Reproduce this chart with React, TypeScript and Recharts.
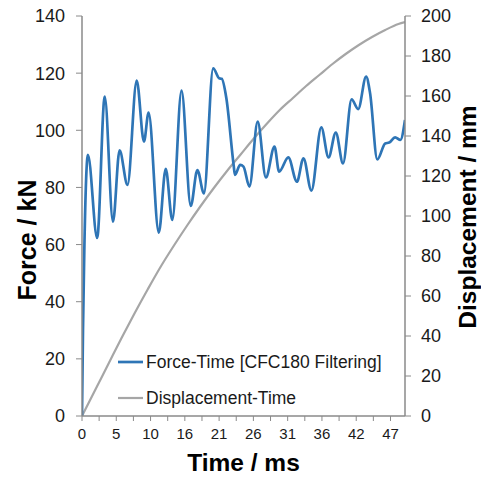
import React from 'react';
import { LineChart, Line, XAxis, YAxis, Legend } from 'recharts';

// ---- data ----
const forceTime = [0, 0.15, 0.35, 0.9, 2.3, 3.45, 4.7, 5.7, 6.9, 8.3, 9.4, 10.1, 11.65, 12.7, 13.7, 15.1, 16.5, 17.5, 18.5, 19.9, 20.8, 21.2, 21.9, 23.0, 23.2, 24.0, 24.5, 25.4, 26.65, 27.9, 29.2, 29.9, 31.3, 32.6, 33.6, 34.8, 36.3, 37.4, 38.5, 39.6, 40.9, 41.9, 43.1, 43.7, 44.8, 46.0, 46.6, 47.5, 48.3, 49.0];
const forceKN = [0, 30, 58, 91.4, 62.3, 111.8, 68, 93, 80.9, 117.4, 96, 106.2, 64.2, 86.5, 68.6, 113.9, 73.5, 86.1, 77.9, 121.7, 118.2, 118, 111.2, 87.9, 84.4, 87.9, 87.3, 80.3, 103, 83.5, 94.3, 85.5, 90.5, 82, 90.2, 78.9, 101, 90.5, 99.2, 88.4, 110.8, 107.4, 118.8, 113, 89.8, 95.4, 95.7, 97.5, 96.6, 103.6];

const dispTime = [0, 2, 4, 6, 8, 10, 12, 14, 16, 18, 20, 22, 24, 26, 28, 30, 32, 34, 36, 38, 40, 42, 44, 46, 48, 49];
const dispMM = [0, 13, 26, 39, 51.5, 63.5, 75, 85.5, 95.5, 105, 114, 122.5, 130.5, 138.5, 146, 153, 159, 165, 170.5, 176, 181, 185.5, 189.5, 193, 196, 197];

const xTicksAll = [0, 2.6, 5.2, 7.8, 10.4, 13, 15.6, 18.2, 20.8, 23.4, 26, 28.6, 31.2, 33.8, 36.4, 39, 41.6, 44.2, 46.8];
const xMajorTicks = [0, 5.2, 10.4, 15.6, 20.8, 26, 31.2, 36.4, 41.6, 46.8];
const xTickLabels = ['0', '5', '10', '16', '21', '26', '31', '36', '42', '47'];

const forceTicks = [0, 20, 40, 60, 80, 100, 120, 140];
const forceMinorTicks = [0, 4, 8, 12, 16, 20, 24, 28, 32, 36, 40, 44, 48, 52, 56, 60, 64, 68, 72, 76, 80, 84, 88, 92, 96, 100, 104, 108, 112, 116, 120, 124, 128, 132, 136, 140];
const dispTicks = [0, 20, 40, 60, 80, 100, 120, 140, 160, 180, 200];
const dispMinorTicks = [0, 4, 8, 12, 16, 20, 24, 28, 32, 36, 40, 44, 48, 52, 56, 60, 64, 68, 72, 76, 80, 84, 88, 92, 96, 100, 104, 108, 112, 116, 120, 124, 128, 132, 136, 140, 144, 148, 152, 156, 160, 164, 168, 172, 176, 180, 184, 188, 192, 196, 200];

const forceData = forceTime.map((t, i) => ({ t, f: forceKN[i] }));
const dispData = dispTime.map((t, i) => ({ t, d: dispMM[i] }));

const BLUE = '#2E75B6';
const GRAY = '#A6A6A6';
const AXIS = '#8a8a8a';
const FONT = '"Liberation Sans", Arial, sans-serif';

const noTick = () => <g />;

const renderLegend = (props: any) => {
  const payload = [...(props.payload || [])].reverse();
  return (
    <div style={{ fontFamily: FONT, fontSize: 17.5, color: '#1a1a1a' }}>
      {payload.map((p: any, i: number) => (
        <div key={i} style={{ display: 'flex', alignItems: 'center', height: 36, whiteSpace: 'nowrap' }}>
          <svg width={25} height={4} style={{ marginRight: 3 }}>
            <line x1={0} y1={2} x2={25} y2={2} stroke={p.color} strokeWidth={p.color === BLUE ? 2.7 : 2.2} />
          </svg>
          <span>{p.value}</span>
        </div>
      ))}
    </div>
  );
};

const LeftTitle = (props: any) => {
  const vb = props.viewBox || {};
  const cx = 36;
  const cy = vb.y + vb.height / 2 + 24;
  return (
    <text x={cx} y={cy} transform={`rotate(-90 ${cx} ${cy})`} textAnchor="middle"
      style={{ fontFamily: FONT, fontSize: 25, fontWeight: 700, fill: '#000' }}>Force / kN</text>
  );
};

const RightTitle = (props: any) => {
  const vb = props.viewBox || {};
  const cx = 476;
  const cy = vb.y + vb.height / 2 + 1;
  return (
    <text x={cx} y={cy} transform={`rotate(-90 ${cx} ${cy})`} textAnchor="middle"
      style={{ fontFamily: FONT, fontSize: 24.5, fontWeight: 700, fill: '#000' }}>Displacement / mm</text>
  );
};

const BottomTitle = (props: any) => {
  const vb = props.viewBox || {};
  const cx = vb.x + vb.width / 2;
  return (
    <text x={cx} y={471} textAnchor="middle"
      style={{ fontFamily: FONT, fontSize: 24.5, fontWeight: 700, fill: '#000' }}>Time / ms</text>
  );
};

export default function App() {
  return (
    <div>
      <style>{'body{margin:0;overflow:hidden;}'}</style>
      <LineChart width={481} height={477} margin={{ top: 16, right: 16, bottom: 0, left: 22 }}>
        <XAxis xAxisId="top" orientation="top" type="number" dataKey="t" domain={[0, 49]} height={0}
          tick={false} tickLine={false} axisLine={{ stroke: '#707070', strokeWidth: 1.5 }} allowDataOverflow />
        <XAxis xAxisId="b" type="number" dataKey="t" domain={[0, 49]} ticks={xTicksAll} interval={0} height={61}
          allowDataOverflow
          tickFormatter={(v: number) => { const k = xMajorTicks.indexOf(v); return k >= 0 ? xTickLabels[k] : ''; }}
          tick={{ fontFamily: FONT, fontSize: 15, fill: '#1a1a1a' }}
          tickSize={5} tickMargin={7}
          tickLine={{ stroke: AXIS, strokeWidth: 1 }} axisLine={{ stroke: AXIS, strokeWidth: 1.5 }}
          label={<BottomTitle />} />
        <YAxis yAxisId="fMinor" orientation="left" mirror width={0} type="number" domain={[0, 140]}
          ticks={forceMinorTicks} interval={0} tick={noTick} tickSize={4} axisLine={false}
          tickLine={{ stroke: AXIS, strokeWidth: 1 }} allowDataOverflow />
        <YAxis yAxisId="f" orientation="left" width={60} type="number" domain={[0, 140]} ticks={forceTicks}
          interval={0} tickSize={6} tickMargin={11}
          tick={{ fontFamily: FONT, fontSize: 18, fill: '#1a1a1a' }}
          tickLine={{ stroke: AXIS, strokeWidth: 1 }} axisLine={{ stroke: AXIS, strokeWidth: 1.5 }}
          allowDataOverflow label={<LeftTitle />} />
        <YAxis yAxisId="dMinor" orientation="right" mirror width={0} type="number" domain={[0, 200]}
          ticks={dispMinorTicks} interval={0} tick={noTick} tickSize={4} axisLine={false}
          tickLine={{ stroke: AXIS, strokeWidth: 1 }} allowDataOverflow />
        <YAxis yAxisId="d" orientation="right" width={60} type="number" domain={[0, 200]} ticks={dispTicks}
          interval={0} tickSize={6} tickMargin={10}
          tick={{ fontFamily: FONT, fontSize: 18, fill: '#1a1a1a' }}
          tickLine={{ stroke: AXIS, strokeWidth: 1 }} axisLine={{ stroke: AXIS, strokeWidth: 1.5 }}
          allowDataOverflow label={<RightTitle />} />
        <Line xAxisId="b" yAxisId="d" data={dispData} dataKey="d" name="Displacement-Time" type="monotone"
          stroke={GRAY} strokeWidth={2.2} dot={false} isAnimationActive={false} legendType="line" />
        <Line xAxisId="b" yAxisId="f" data={forceData} dataKey="f" name="Force-Time [CFC180 Filtering]" type="monotone"
          stroke={BLUE} strokeWidth={2.7} dot={false} isAnimationActive={false} legendType="line" />
        <Legend layout="vertical" align="center" verticalAlign="middle" content={renderLegend}
          wrapperStyle={{ left: 118, top: 344, width: 'auto', height: 'auto' }} />
      </LineChart>
    </div>
  );
}
